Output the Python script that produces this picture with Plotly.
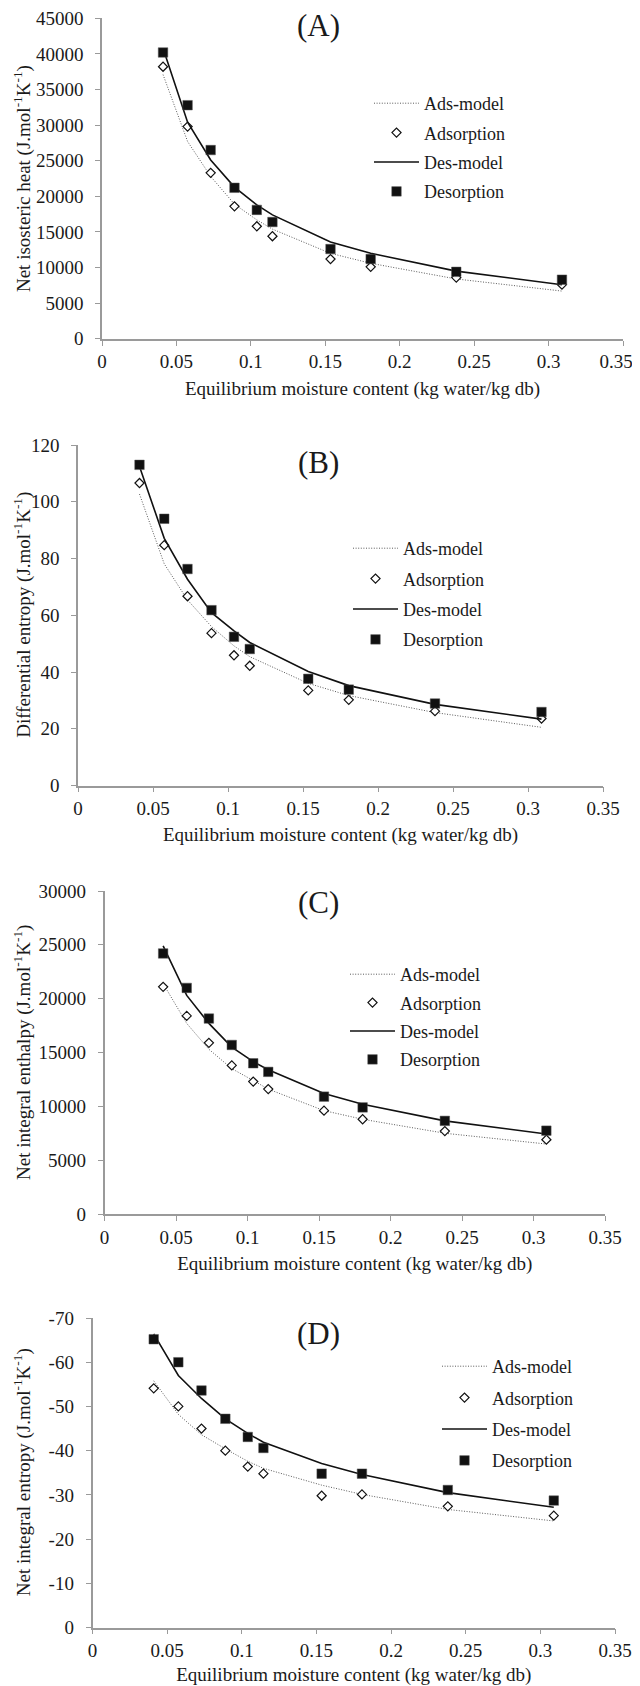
import plotly.graph_objects as go

# The page body has an 8px default margin, so the figure is drawn 8px smaller
# and every reference pixel position is shifted by OFF.
PAGE_W, PAGE_H = 640, 1686
OFF = 8
W, H = PAGE_W - OFF, PAGE_H - OFF

# ---------------- data ----------------
moisture = [0.041, 0.0575, 0.073, 0.089, 0.104, 0.1145, 0.1535, 0.1805, 0.238, 0.309]

# (A) Net isosteric heat
heat_ads = [38200, 29800, 23300, 18600, 15800, 14400, 11200, 10100, 8600, 7600]
heat_ads_model = [37100, 27700, 22800, 18900, 16700, 15400, 12000, 10600, 8400, 6700]
heat_des = [40200, 32800, 26500, 21200, 18100, 16400, 12600, 11200, 9400, 8300]
heat_des_model = [40800, 30400, 25100, 21300, 18800, 17400, 13600, 12000, 9500, 7600]

# (B) Differential entropy
dent_ads = [106.6, 84.7, 66.7, 53.7, 45.9, 42.2, 33.5, 30.2, 26.2, 23.6]
dent_ads_model = [102.7, 78.1, 65.4, 56.0, 49.2, 45.4, 36.0, 31.7, 25.7, 20.5]
dent_des = [113.0, 94.0, 76.3, 61.8, 52.4, 48.1, 37.6, 33.8, 28.9, 25.9]
dent_des_model = [112.4, 87.1, 72.7, 60.9, 54.5, 50.4, 40.2, 35.2, 28.6, 23.4]

# (C) Net integral enthalpy
enth_ads = [21100, 18400, 15900, 13800, 12300, 11600, 9600, 8800, 7700, 6900]
enth_ads_model = [21400, 17700, 15300, 13500, 12400, 11600, 9600, 8800, 7500, 6500]
enth_des = [24200, 21000, 18150, 15700, 14000, 13200, 10900, 9900, 8650, 7740]
enth_des_model = [24900, 20300, 17700, 15500, 14150, 13400, 11200, 10200, 8650, 7430]

# (D) Net integral entropy
ient_ads = [-54.1, -50.0, -45.0, -40.0, -36.4, -34.8, -29.8, -30.1, -27.4, -25.3]
ient_ads_model = [-55.8, -48.2, -43.6, -40.4, -37.6, -36.0, -32.2, -30.1, -26.7, -24.1]
ient_des = [-65.2, -60.0, -53.6, -47.2, -43.1, -40.6, -34.8, -34.8, -31.1, -28.7]
ient_des_model = [-66.4, -57.0, -51.8, -47.2, -43.9, -41.9, -37.1, -34.6, -30.5, -27.2]

x_ticks = [0, 0.05, 0.1, 0.15, 0.2, 0.25, 0.3, 0.35]
x_ticktext = ["0", "0.05", "0.1", "0.15", "0.2", "0.25", "0.3", "0.35"]

heat_ticks = [0, 5000, 10000, 15000, 20000, 25000, 30000, 35000, 40000, 45000]
dent_ticks = [0, 20, 40, 60, 80, 100, 120]
enth_ticks = [0, 5000, 10000, 15000, 20000, 25000, 30000]
ient_ticks = [0, -10, -20, -30, -40, -50, -60, -70]

panel_labels = ["(A)", "(B)", "(C)", "(D)"]
y_titles = [
    "Net isosteric heat (J.mol<sup>-1</sup>K<sup>-1</sup>)",
    "Differential entropy (J.mol<sup>-1</sup>K<sup>-1</sup>)",
    "Net integral enthalpy (J.mol<sup>-1</sup>K<sup>-1</sup>)",
    "Net integral entropy (J.mol<sup>-1</sup>K<sup>-1</sup>)",
]
x_title = "Equilibrium moisture content (kg water/kg db)"
series_names = ["Ads-model", "Adsorption", "Des-model", "Desorption"]

# ---------------- layout geometry (reference page pixels) ----------------
panels = [
    dict(ads=heat_ads, adsm=heat_ads_model, des=heat_des, desm=heat_des_model,
         yt=heat_ticks, yr=[0, 45000], box=(102, 623, 18.3, 338.8),
         lbl=(318, 25), leg=(369, 85), gap=3, nudge_last=-7),
    dict(ads=dent_ads, adsm=dent_ads_model, des=dent_des, desm=dent_des_model,
         yt=dent_ticks, yr=[0, 120], box=(78, 603, 445, 785.5),
         lbl=(318, 462), leg=(348, 530), gap=4, nudge_last=0),
    dict(ads=enth_ads, adsm=enth_ads_model, des=enth_des, desm=enth_des_model,
         yt=enth_ticks, yr=[0, 30000], box=(104.5, 605, 891, 1214),
         lbl=(318, 902), leg=(345, 956), gap=2, nudge_last=0),
    dict(ads=ient_ads, adsm=ient_ads_model, des=ient_des, desm=ient_des_model,
         yt=ient_ticks, yr=[0, -70], box=(92.5, 615, 1318, 1627.5),
         lbl=(318, 1333), leg=(437, 1348), gap=5, nudge_last=0),
]
YTITLE_X = 22.5

FONT = "Liberation Serif, Times New Roman, serif"
AXC = "#9a9a9a"
TXT = "#1a1a1a"
TICKFONT = dict(family=FONT, size=19, color=TXT)


def px(x):
    return (x - OFF) / W


def py(y):
    return 1 - (y - OFF) / H


fig = go.Figure()
layout = dict(
    width=W, height=H,
    margin=dict(l=0, r=0, t=0, b=0),
    paper_bgcolor="white", plot_bgcolor="white",
    font=dict(family=FONT, color=TXT, size=19),
    annotations=[],
)

extra_axis = 5
for i, p in enumerate(panels):
    n = "" if i == 0 else str(i + 1)
    xa, ya = "x" + n, "y" + n
    leg = "legend" + n
    x0, x1, y0, y1 = p["box"]

    fig.add_trace(go.Scatter(
        x=moisture, y=p["adsm"], mode="lines", name=series_names[0],
        line=dict(color="#5a5a5a", width=1, dash="1px,1.6px"),
        xaxis=xa, yaxis=ya, legend=leg, legendgroup=f"g{i}a"))
    fig.add_trace(go.Scatter(
        x=moisture, y=p["ads"], mode="markers", name=series_names[1],
        marker=dict(symbol="diamond", size=7, color="white",
                    line=dict(color="#111111", width=1.2)),
        xaxis=xa, yaxis=ya, legend=leg, legendgroup=f"g{i}b"))
    fig.add_trace(go.Scatter(
        x=moisture, y=p["desm"], mode="lines", name=series_names[2],
        line=dict(color="#111111", width=1.6),
        xaxis=xa, yaxis=ya, legend=leg, legendgroup=f"g{i}c"))
    fig.add_trace(go.Scatter(
        x=moisture, y=p["des"], mode="markers", name=series_names[3],
        marker=dict(symbol="square", size=9.5, color="#111111",
                    line=dict(color="#555555", width=0.5)),
        xaxis=xa, yaxis=ya, legend=leg, legendgroup=f"g{i}d"))

    ticktext = list(x_ticktext)
    if p["nudge_last"]:
        # like the original, the last x label is nudged inward to stay on the page:
        # it is drawn by an overlaid axis that only carries that label.
        ticktext[-1] = ""
        ex = str(extra_axis)
        extra_axis += 1
        layout["xaxis" + ex] = dict(
            overlaying=xa, anchor=ya, range=[0, 0.35],
            tickvals=x_ticks[-1:], ticktext=x_ticktext[-1:],
            ticks="outside", ticklen=5, tickcolor="rgba(0,0,0,0)",
            ticklabelshift=p["nudge_last"], ticklabelstandoff=0,
            showline=False, showgrid=False, zeroline=False,
            tickfont=TICKFONT, automargin=False,
        )
        fig.add_trace(go.Scatter(x=[], y=[], xaxis="x" + ex, yaxis=ya,
                                 showlegend=False, hoverinfo="skip"))

    layout["xaxis" + n] = dict(
        domain=[px(x0), px(x1)], anchor=ya, range=[0, 0.35],
        tickvals=x_ticks, ticktext=ticktext, ticks="outside", ticklen=5,
        tickcolor=AXC, tickwidth=1.2, showline=True, linecolor=AXC, linewidth=1.6,
        showgrid=False, zeroline=False, ticklabelstandoff=0,
        ticklabeloverflow="allow",
        tickfont=TICKFONT,
        title=dict(text=x_title, font=dict(family=FONT, size=19, color=TXT), standoff=10),
        automargin=False,
    )
    layout["yaxis" + n] = dict(
        domain=[py(y1), py(y0)], anchor=xa, range=p["yr"],
        tickvals=p["yt"], ticktext=[str(v) for v in p["yt"]], ticks="outside", ticklen=5,
        tickcolor=AXC, tickwidth=1.2, showline=True, linecolor=AXC, linewidth=1.6,
        showgrid=False, zeroline=False, ticklabelstandoff=8,
        ticklabeloverflow="allow",
        tickfont=TICKFONT,
        automargin=False,
    )
    lx, ly = p["leg"]
    layout[leg] = dict(
        x=px(lx), y=py(ly), xanchor="left", yanchor="top",
        xref="paper", yref="paper",
        bgcolor="rgba(0,0,0,0)", borderwidth=0,
        font=dict(family=FONT, size=18, color=TXT),
        itemwidth=45, tracegroupgap=p["gap"], traceorder="grouped",
    )
    cx, cy = p["lbl"]
    layout["annotations"].append(dict(
        text=panel_labels[i], x=px(cx), y=py(cy), xref="paper", yref="paper",
        xanchor="center", yanchor="middle", showarrow=False,
        font=dict(family=FONT, size=31, color=TXT),
    ))
    # y-axis title (placed at the reference's fixed left position)
    layout["annotations"].append(dict(
        text=y_titles[i], x=px(YTITLE_X), y=py((y0 + y1) / 2),
        xref="paper", yref="paper", xanchor="center", yanchor="middle",
        textangle=-90, showarrow=False,
        font=dict(family=FONT, size=19, color=TXT),
    ))

fig.update_layout(**layout)
fig.write_html("out.html")
